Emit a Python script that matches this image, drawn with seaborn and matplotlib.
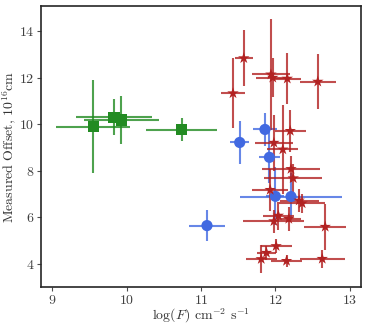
import matplotlib
matplotlib.use("Agg")
import matplotlib.pyplot as plt
import seaborn as sns
import pandas as pd

# green squares
green_x = [9.55, 9.83, 9.93, 10.74]
green_y = [9.89, 10.30, 10.19, 9.77]
green_xerr = [0.50, 0.51, 0.51, 0.48]
green_yerr = [2.00, 0.77, 1.05, 0.50]

# blue circles
blue_x = [11.08, 11.52, 11.86, 11.92, 12.00, 12.21]
blue_y = [5.64, 9.22, 9.78, 8.58, 6.90, 6.89]
blue_xerr = [0.24, 0.13, 0.16, 0.14, 0.12, 0.69]
blue_yerr = [0.67, 0.94, 0.70, 1.10, 1.25, 1.00]

# red stars
red_x = [11.43, 11.575, 11.94, 11.965, 12.16, 12.57, 12.20, 11.98, 12.10, 12.21,
         12.24, 11.93, 12.32, 12.36, 12.04, 11.98, 12.18, 12.67, 12.01, 11.88,
         11.81, 12.15, 12.63]
red_y = [11.34, 12.85, 12.15, 12.01, 11.97, 11.84, 9.72, 9.21, 8.92, 8.08,
         7.68, 7.18, 6.72, 6.60, 6.07, 5.83, 5.93, 5.59, 4.76, 4.47,
         4.20, 4.12, 4.21]
red_xerr = [0.16, 0.12, 0.26, 0.22, 0.19, 0.24, 0.21, 0.26, 0.21, 0.39,
            0.39, 0.24, 0.26, 0.31, 0.21, 0.41, 0.16, 0.28, 0.21, 0.13,
            0.21, 0.21, 0.30]
red_yerr = [1.50, 1.20, 2.40, 0.83, 1.10, 1.20, 0.90, 1.20, 1.90, 0.55,
            0.60, 0.90, 0.50, 0.40, 0.60, 0.50, 0.52, 1.00, 0.30, 0.30,
            0.62, 0.27, 0.40]

groups = [
    ("green", green_x, green_y, green_xerr, green_yerr, "forestgreen", "s", 65),
    ("blue", blue_x, blue_y, blue_xerr, blue_yerr, "royalblue", "o", 65),
    ("red", red_x, red_y, red_xerr, red_yerr, "firebrick", "*", 75),
]

sns.set_style("ticks")
plt.rcParams["font.family"] = ["serif"]
plt.rcParams["font.serif"] = ["cmr10", "DejaVu Serif"]
plt.rcParams["mathtext.fontset"] = "cm"
plt.rcParams["axes.formatter.use_mathtext"] = True

fig = plt.figure(figsize=(3.74, 3.29), dpi=100)
ax = fig.add_axes([0.110, 0.128, 0.855, 0.854])

for name, x, y, xe, ye, col, mk, sz in groups:
    df = pd.DataFrame({"x": x, "y": y})
    ax.errorbar(x, y, xerr=xe, yerr=ye, fmt="none", ecolor=col,
                elinewidth=1.5, alpha=0.8, zorder=2)
    sns.scatterplot(data=df, x="x", y="y", ax=ax, color=col, marker=mk,
                    s=sz, edgecolor="none", zorder=3)

ax.set_xlim(8.85, 13.15)
ax.set_ylim(3.0, 15.1)
ax.set_xticks([9, 10, 11, 12, 13])
ax.set_yticks([4, 6, 8, 10, 12, 14])
ax.tick_params(labelsize=10, length=3, width=0.8, pad=2,
               color="0.3", labelcolor="0.25")
for s in ax.spines.values():
    s.set_linewidth(1.2)
    s.set_color("0.15")
ax.set_xlabel(r"$\log(F)$ cm$^{-2}$ s$^{-1}$", fontsize=10, color="0.2", labelpad=0)
ax.set_ylabel(r"Measured Offset, $10^{16}$cm", fontsize=10, color="0.2")
ax.yaxis.set_label_coords(-0.072, 0.5)

fig.savefig("out.png", dpi=100)
